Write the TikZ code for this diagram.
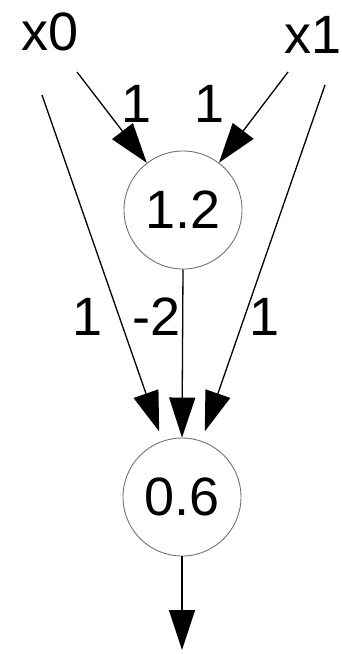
\documentclass[tikz,border=0pt]{standalone}
\usepackage{fontspec}
\setmainfont{Liberation Sans}
\usetikzlibrary{arrows.meta}
\begin{document}
\begin{tikzpicture}[x=1pt,y=-1pt,
  neuron/.style={circle,draw=black!55,line width=0.9pt,minimum size=118pt,inner sep=0pt,fill=white},
  lbl/.style={anchor=base,inner sep=0pt,font=\fontsize{54}{60}\selectfont},
  conn/.style={line width=1.3pt,-{Triangle[length=40pt,width=26pt]}}]
\useasboundingbox (0,0) rectangle (341,654);
\node[lbl] (x0) at (50,50) {x0};
\node[lbl] (x1) at (313,53) {x1};
\node[neuron,font=\fontsize{54}{60}\selectfont] (h) at (183,210) {1.2};
\node[neuron,font=\fontsize{54}{60}\selectfont] (o) at (182,497) {0.6};
\coordinate (x0a) at (77,72);
\coordinate (x0b) at (42,95);
\coordinate (x1a) at (288,72);
\coordinate (x1b) at (325,85);
\coordinate (out) at (182,650);
\draw[conn] (x0a) -- (h);
\draw[conn] (x1a) -- (h);
\draw[conn,shorten >=10pt] (x0b) -- (o);
\draw[conn,shorten >=10pt] (x1b) -- (o);
\draw[conn] (h.south) -- (o.north);
\draw[conn] (o.south) -- (out);
\node[lbl] (w1) at (137,122) {1};
\node[lbl] (w2) at (210,122) {1};
\node[lbl] (w3) at (88,335) {1};
\node[lbl] (w4) at (157,335) {-2};
\node[lbl] (w5) at (265,335) {1};
\end{tikzpicture}
\end{document}
